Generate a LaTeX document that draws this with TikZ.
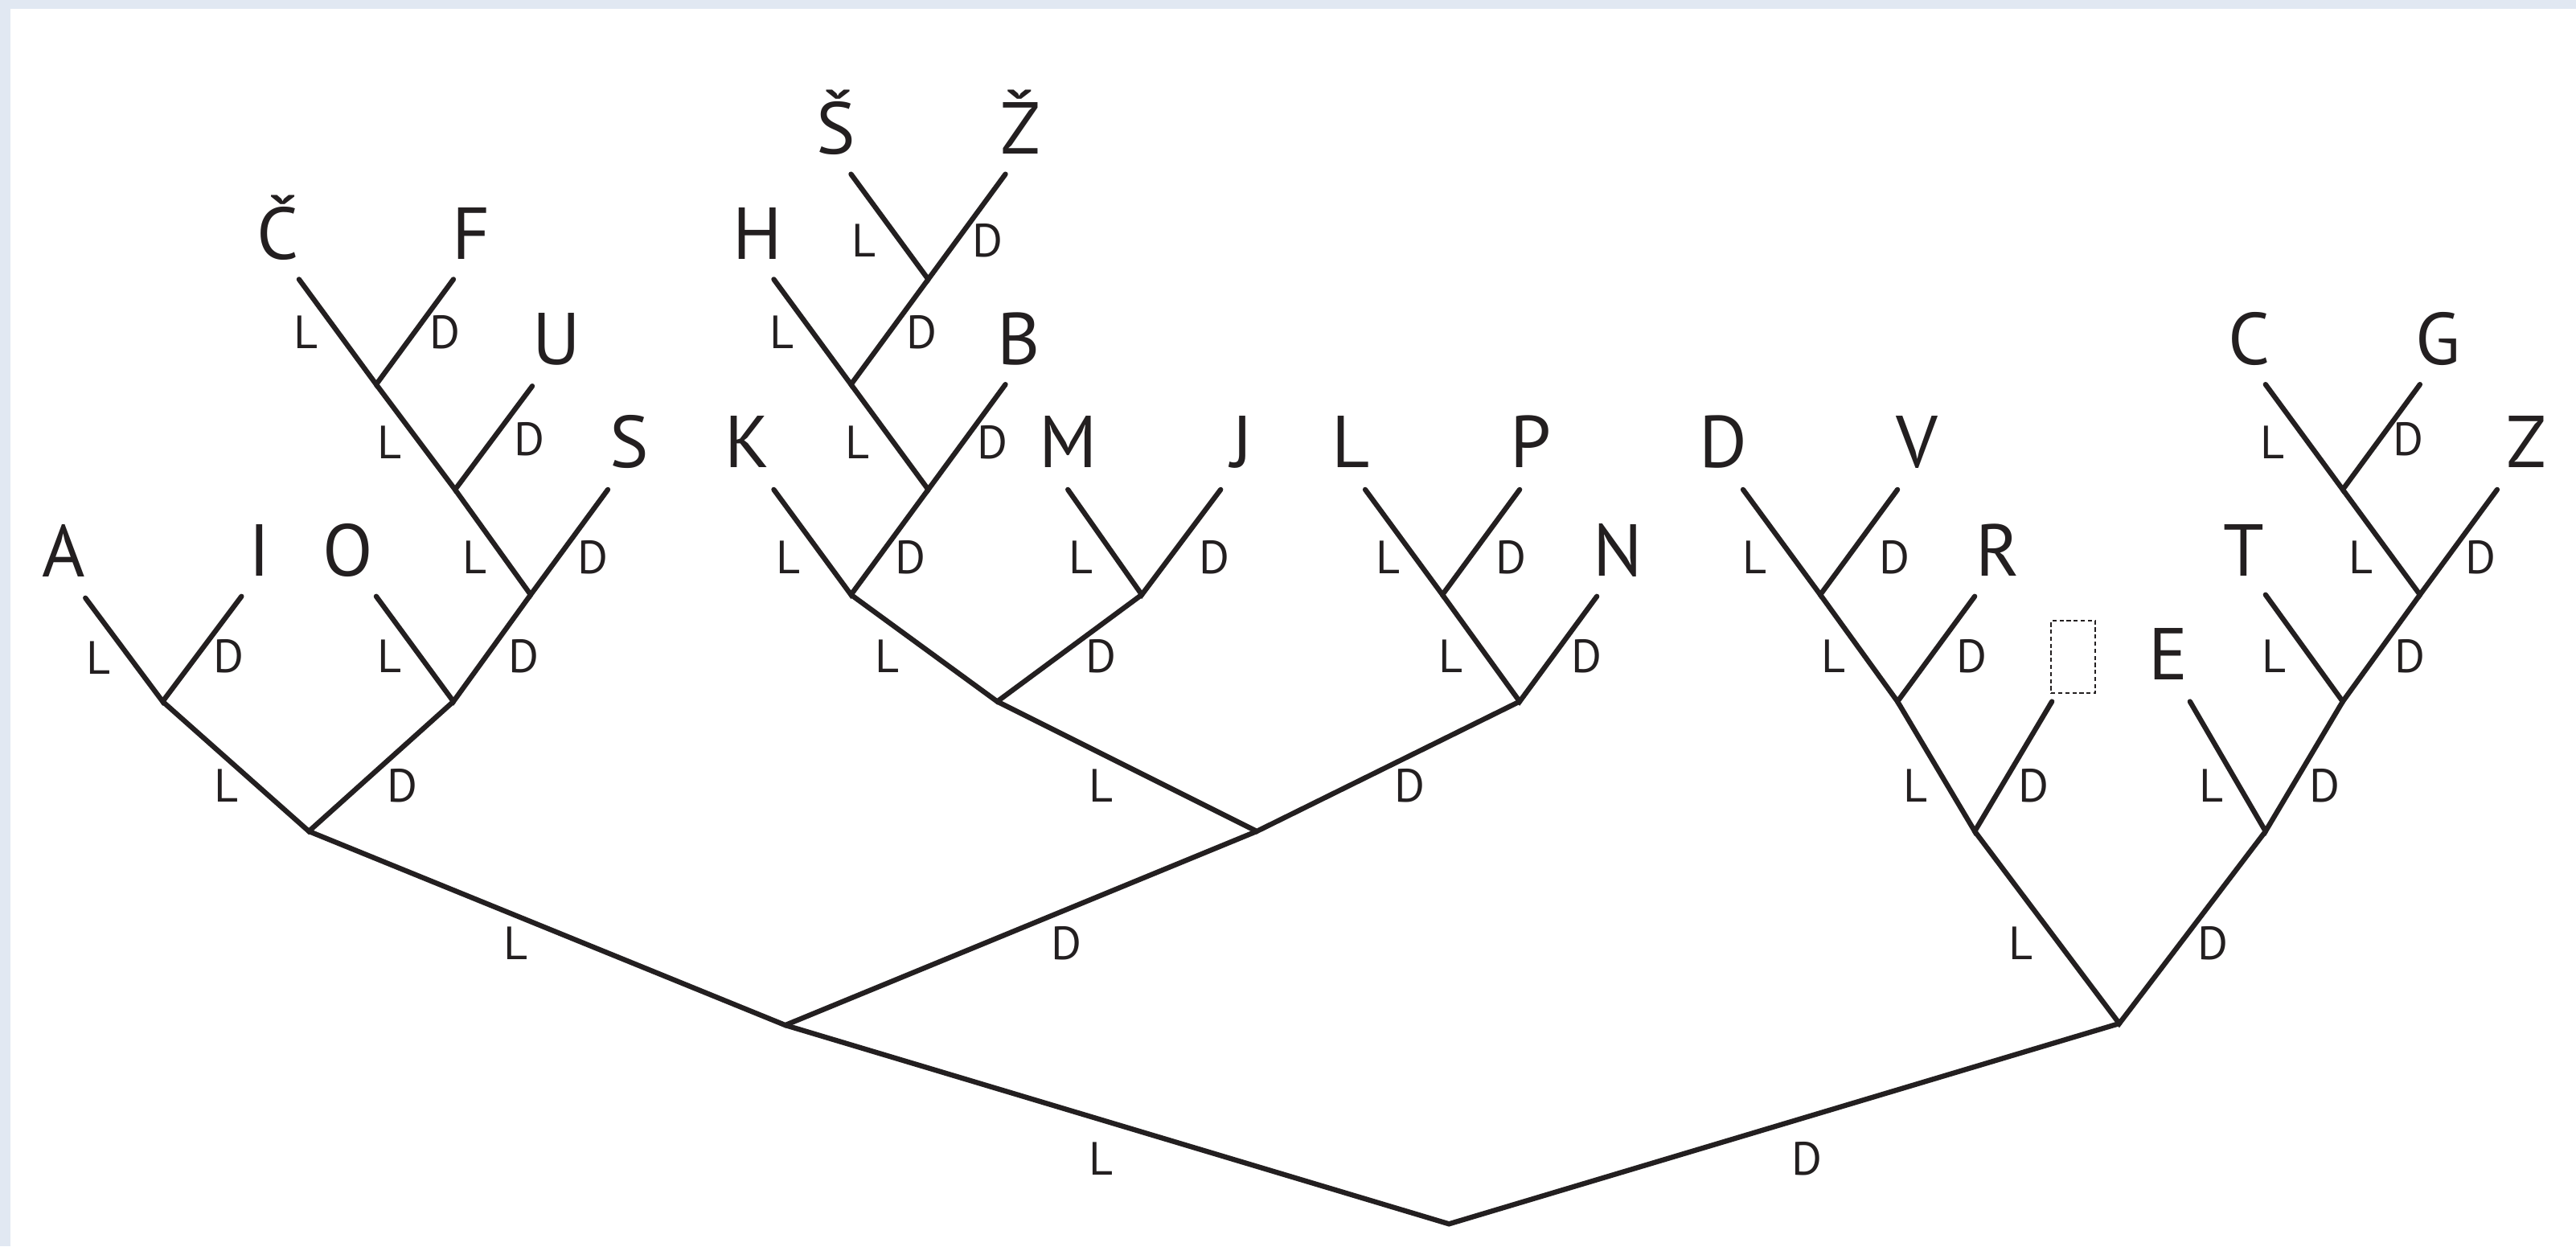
\documentclass[tikz,border=0pt]{standalone}
\usepackage{fontspec}
\setmainfont{PT Sans}
\definecolor{ink}{HTML}{231F20}
\definecolor{frame}{HTML}{E1E8F2}
\begin{document}
\begin{tikzpicture}[x=0.020434cm,y=-0.020434cm,
  br/.style={draw=ink,line width=1.8pt,line cap=round,line join=miter},
  leaf/.style={font=\fontsize{26}{26}\selectfont,text=ink,anchor=base,inner sep=0pt,yshift=0.045cm},
  lab/.style={font=\fontsize{16.5}{16.5}\selectfont,text=ink,anchor=base,inner sep=0pt,yshift=0.045cm},
  gapbox/.style={draw=ink,dash pattern=on 1.5pt off 1pt,line width=0.6pt,minimum width=27*0.020434cm,minimum height=44*0.020434cm,inner sep=0pt}]
\useasboundingbox (0,0) rectangle (1568,758.6);
\fill[frame] (0,0) rectangle (1568,758.6);
\fill[white] (6.3,5.5) rectangle (1568,758.6);
% internal points
\coordinate (r) at (882,745);
\coordinate (a) at (478,624);
\coordinate (b) at (1290,623);
\coordinate (aa) at (188,506);
\coordinate (ab) at (765,506);
\coordinate (aaa) at (99,427);
\coordinate (aab) at (276,427);
\coordinate (aabD) at (323,362);
\coordinate (aabDL) at (277,298);
\coordinate (aabDLL) at (229,234);
\coordinate (aba) at (607,427);
\coordinate (abb) at (925,427);
\coordinate (abaa) at (518,362);
\coordinate (abab) at (695,362);
\coordinate (abaaD) at (565,298);
\coordinate (abaaDL) at (518,234);
\coordinate (abaaDLD) at (565,170);
\coordinate (abbL) at (878,362);
\coordinate (ba) at (1202,506);
\coordinate (bb) at (1379,506);
\coordinate (baa) at (1155,427);
\coordinate (baaa) at (1108,362);
\coordinate (bbD) at (1426,427);
\coordinate (bbDD) at (1473,362);
\coordinate (bbDDL) at (1426,298);
% leaf ends
\coordinate (eA) at (52,364);
\coordinate (eI) at (147,363);
\coordinate (eO) at (229,363);
\coordinate (eS) at (370,298);
\coordinate (eU) at (324,235);
\coordinate (eC) at (182,170);
\coordinate (eF) at (276,170);
\coordinate (eK) at (471,298);
\coordinate (eB) at (612,234);
\coordinate (eH) at (471,170);
\coordinate (eSh) at (518,106);
\coordinate (eZh) at (612,106);
\coordinate (eM) at (650,298);
\coordinate (eJ) at (743,298);
\coordinate (eN) at (972,363);
\coordinate (eL) at (831,298);
\coordinate (eP) at (925,298);
\coordinate (eBox) at (1249,427);
\coordinate (eR) at (1202,363);
\coordinate (eD) at (1061,298);
\coordinate (eV) at (1155,298);
\coordinate (eE) at (1333,427);
\coordinate (eT) at (1379,362);
\coordinate (eZ) at (1520,298);
\coordinate (eCc) at (1379,234);
\coordinate (eG) at (1473,234);
% branches
\draw[br] (a) -- (r) -- (b);
\draw[br] (aa) -- (a) -- (ab);
\draw[br] (aaa) -- (aa) -- (aab);
\draw[br] (eA) -- (aaa) -- (eI);
\draw[br] (eO) -- (aab) -- (aabD);
\draw[br] (aabDL) -- (aabD) -- (eS);
\draw[br] (aabDLL) -- (aabDL) -- (eU);
\draw[br] (eC) -- (aabDLL) -- (eF);
\draw[br] (aba) -- (ab) -- (abb);
\draw[br] (abaa) -- (aba) -- (abab);
\draw[br] (eK) -- (abaa) -- (abaaD);
\draw[br] (abaaDL) -- (abaaD) -- (eB);
\draw[br] (eH) -- (abaaDL) -- (abaaDLD);
\draw[br] (eSh) -- (abaaDLD) -- (eZh);
\draw[br] (eM) -- (abab) -- (eJ);
\draw[br] (abbL) -- (abb) -- (eN);
\draw[br] (eL) -- (abbL) -- (eP);
\draw[br] (ba) -- (b) -- (bb);
\draw[br] (baa) -- (ba) -- (eBox);
\draw[br] (baaa) -- (baa) -- (eR);
\draw[br] (eD) -- (baaa) -- (eV);
\draw[br] (eE) -- (bb) -- (bbD);
\draw[br] (eT) -- (bbD) -- (bbDD);
\draw[br] (bbDDL) -- (bbDD) -- (eZ);
\draw[br] (eCc) -- (bbDDL) -- (eG);
% leaf letters
\node[leaf] (A) at (39,353.5) {A};
\node[leaf] (I) at (158,353) {I};
\node[leaf] (O) at (212,353) {O};
\node[leaf] (S) at (383,287) {S};
\node[leaf] (U) at (339,224) {U};
\node[leaf] (Cc) at (169,160) {Č};
\node[leaf] (F) at (287,160) {F};
\node[leaf] (K) at (455,287) {K};
\node[leaf] (H) at (461,160) {H};
\node[leaf] (Sh) at (509,96) {Š};
\node[leaf] (Zh) at (621,96) {Ž};
\node[leaf] (B) at (620,224) {B};
\node[leaf] (M) at (650,287) {M};
\node[leaf] (J) at (756,287) {J};
\node[leaf] (L) at (822,287) {L};
\node[leaf] (P) at (932,287) {P};
\node[leaf] (N) at (985,353) {N};
\node[leaf] (D) at (1049,287) {D};
\node[leaf] (V) at (1167,287) {V};
\node[leaf] (R) at (1216,353) {R};
\node[gapbox] (box) at (1262,400) {};
\node[leaf] (E) at (1320,416) {E};
\node[leaf] (T) at (1366,353) {T};
\node[leaf] (C) at (1369,224) {C};
\node[leaf] (G) at (1484,224) {G};
\node[leaf] (Z) at (1538,287) {Z};
% edge labels
\node[lab] (l1) at (60,412.5) {L};
\node[lab] (l2) at (139,411.5) {D};
\node[lab] (l3) at (237,411.5) {L};
\node[lab] (l4) at (319,411.5) {D};
\node[lab] (l5) at (138,490.5) {L};
\node[lab] (l6) at (245,490.5) {D};
\node[lab] (l7) at (289,351.5) {L};
\node[lab] (l8) at (361,351.5) {D};
\node[lab] (l9) at (237,281.5) {L};
\node[lab] (l10) at (322,279.5) {D};
\node[lab] (l11) at (186,214.5) {L};
\node[lab] (l12) at (271,214.5) {D};
\node[lab] (l13) at (314,586.5) {L};
\node[lab] (l14) at (649,586.5) {D};
\node[lab] (l15) at (670,717.5) {L};
\node[lab] (l16) at (1100,717.5) {D};
\node[lab] (l17) at (670,490.5) {L};
\node[lab] (l18) at (858,490.5) {D};
\node[lab] (l19) at (540,411.5) {L};
\node[lab] (l20) at (670,411.5) {D};
\node[lab] (l21) at (480,351.5) {L};
\node[lab] (l22) at (554,351.5) {D};
\node[lab] (l23) at (522,281.5) {L};
\node[lab] (l24) at (604,281.5) {D};
\node[lab] (l25) at (476,214.5) {L};
\node[lab] (l26) at (561,214.5) {D};
\node[lab] (l27) at (526,158.5) {L};
\node[lab] (l28) at (601,158.5) {D};
\node[lab] (l29) at (658,351.5) {L};
\node[lab] (l30) at (739,351.5) {D};
\node[lab] (l31) at (883,411.5) {L};
\node[lab] (l32) at (966,411.5) {D};
\node[lab] (l33) at (845,351.5) {L};
\node[lab] (l34) at (920,351.5) {D};
\node[lab] (l35) at (1230,586.5) {L};
\node[lab] (l36) at (1347,586.5) {D};
\node[lab] (l37) at (1166,490.5) {L};
\node[lab] (l38) at (1238,490.5) {D};
\node[lab] (l39) at (1116,411.5) {L};
\node[lab] (l40) at (1200,411.5) {D};
\node[lab] (l41) at (1068,351.5) {L};
\node[lab] (l42) at (1153,351.5) {D};
\node[lab] (l43) at (1346,490.5) {L};
\node[lab] (l44) at (1415,490.5) {D};
\node[lab] (l45) at (1384,411.5) {L};
\node[lab] (l46) at (1467,411.5) {D};
\node[lab] (l47) at (1437,351.5) {L};
\node[lab] (l48) at (1510,351.5) {D};
\node[lab] (l49) at (1383,281.5) {L};
\node[lab] (l50) at (1466,279.5) {D};
\end{tikzpicture}
\end{document}
